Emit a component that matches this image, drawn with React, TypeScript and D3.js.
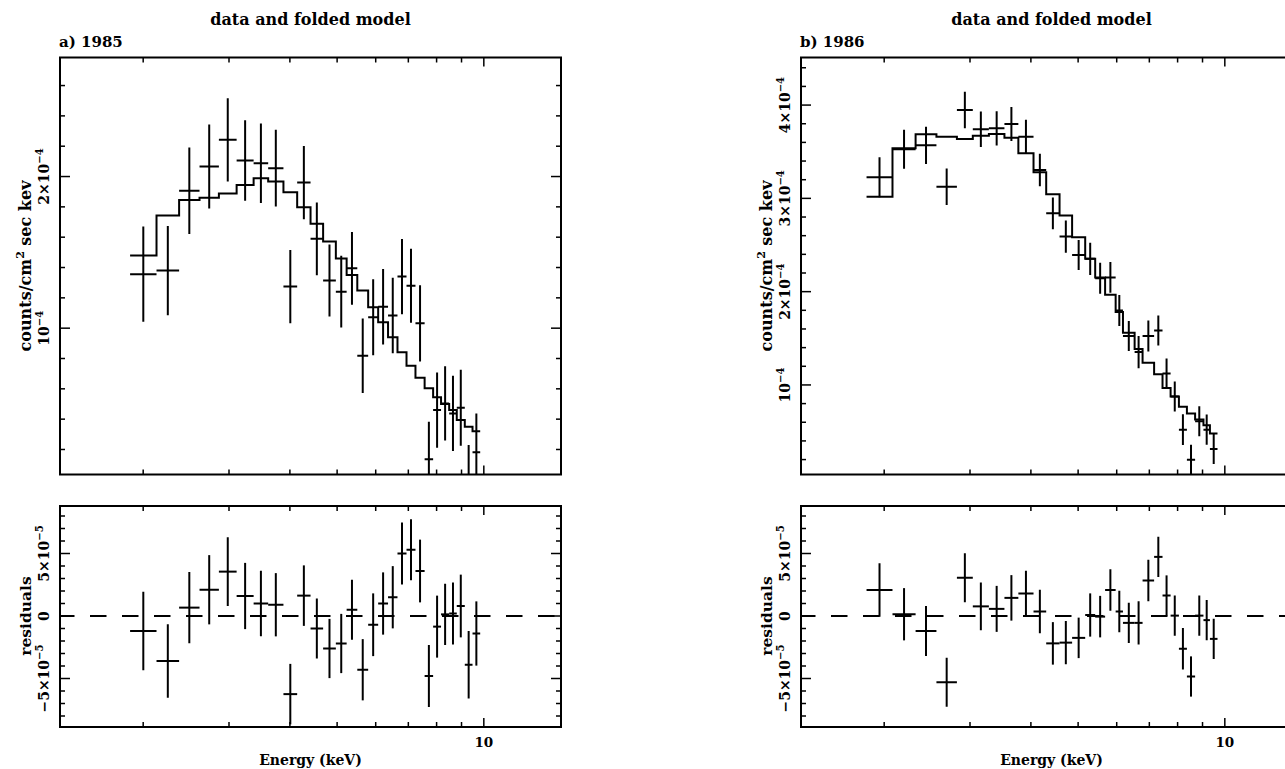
import React from 'react';
import * as d3 from 'd3';

// 1985 spectrum (counts/cm^2 sec keV in units of 1e-4, residuals in 1e-5)
const edges85 = [1.88, 2.13, 2.37, 2.61, 2.86, 3.11, 3.37, 3.61, 3.88, 4.14, 4.41, 4.68, 4.97, 5.23, 5.5, 5.79, 6.07, 6.36, 6.65, 6.94, 7.24, 7.56, 7.87, 8.17, 8.49, 8.8, 9.14, 9.48, 9.83];
const counts85 = [1.356, 1.38, 1.906, 2.066, 2.242, 2.106, 2.088, 2.055, 1.274, 1.96, 1.589, 1.314, 1.241, 1.395, 0.818, 1.072, 1.142, 1.083, 1.34, 1.279, 1.032, 0.135, 0.46, 0.504, 0.438, 0.475, -0.04, 0.181];
const errs85 = [0.314, 0.294, 0.285, 0.277, 0.275, 0.265, 0.262, 0.253, 0.242, 0.242, 0.24, 0.237, 0.237, 0.24, 0.245, 0.251, 0.249, 0.249, 0.248, 0.244, 0.251, 0.248, 0.248, 0.245, 0.248, 0.251, 0.27, 0.257];
const model85 = [1.479, 1.743, 1.846, 1.86, 1.888, 1.945, 1.989, 1.967, 1.897, 1.798, 1.688, 1.571, 1.459, 1.351, 1.248, 1.138, 1.039, 0.94, 0.841, 0.752, 0.673, 0.603, 0.544, 0.5, 0.46, 0.394, 0.35, 0.321];
const resid85 = [-1.2, -3.6, 0.67, 2.1, 3.55, 1.6, 1.0, 0.9, -6.25, 1.63, -1.0, -2.6, -2.2, 0.5, -4.3, -0.7, 1.0, 1.5, 5.0, 5.3, 3.6, -4.8, -0.85, 0.13, 0.2, 0.8, -3.9, -1.4];

// 1986 spectrum
const edges86 = [1.84, 2.08, 2.32, 2.56, 2.82, 3.04, 3.28, 3.53, 3.77, 4.05, 4.3, 4.58, 4.86, 5.17, 5.42, 5.68, 5.97, 6.18, 6.53, 6.78, 7.16, 7.45, 7.74, 8.05, 8.36, 8.69, 9.04, 9.32, 9.66];
const counts86 = [3.226, 3.526, 3.569, 3.125, 3.947, 3.741, 3.751, 3.797, 3.661, 3.304, 2.84, 2.59, 2.393, 2.352, 2.144, 2.153, 1.797, 1.525, 1.352, 1.525, 1.584, 1.123, 0.877, 0.521, 0.198, 0.61, 0.521, 0.313];
const errs86 = [0.214, 0.209, 0.2, 0.196, 0.196, 0.191, 0.184, 0.182, 0.182, 0.174, 0.17, 0.173, 0.162, 0.173, 0.166, 0.166, 0.166, 0.161, 0.173, 0.166, 0.161, 0.161, 0.161, 0.166, 0.161, 0.161, 0.161, 0.161];
const model86 = [3.018, 3.537, 3.687, 3.661, 3.637, 3.67, 3.69, 3.65, 3.483, 3.28, 3.044, 2.815, 2.583, 2.352, 2.153, 1.966, 1.782, 1.56, 1.386, 1.238, 1.115, 0.966, 0.877, 0.767, 0.693, 0.629, 0.569, 0.48];
const resid86 = [2.08, 0.14, -1.2, -5.3, 3.06, 0.77, 0.57, 1.45, 1.8, 0.36, -2.19, -2.13, -1.75, 0.08, -0.05, 2.08, 0.36, -0.55, -0.55, 2.84, 4.73, 1.64, 0.03, -2.62, -4.84, 0.03, -0.33, -1.83];

// axes
const energyDomain = [1.35, 14.4];
const energyMinor = [2, 3, 4, 5, 6, 7, 8, 9];
const energyMajor = [10];
const countMajor85 = [1, 2];
const countLabels85 = ['10', '2×10'];
const countMajor86 = [1, 2, 3, 4];
const countLabels86 = ['10', '2×10', '3×10', '4×10'];
const residMajor = [-5, 0, 5];
const residLabels = ['−5×10', '0', '5×10'];

const FONT = "'DejaVu Serif', serif";
const W = 501;
const TOP = { y0: 57.5, y1: 474.5 };
const RES = { y0: 506, y1: 727 };

function RotLabel({ x, y, base, exp, size }) {
  return (
    <text transform={`translate(${x},${y}) rotate(-90)`} textAnchor='middle' fontSize={size} fontWeight='bold'>
      {base}
      {exp ? <tspan dy={-6} fontSize={size * 0.72}>{exp}</tspan> : null}
    </text>
  );
}

function Panel({ x0, tag, edges, counts, errs, model, resid, countDomain, countMajor, countLabels, id }) {
  const x1 = x0 + W;
  const xs = d3.scaleLog().domain(energyDomain).range([x0, x1]);
  const yTop = d3.scaleLinear().domain(countDomain).range([TOP.y1, TOP.y0]);
  const yRes = d3.scaleLinear().domain([-8.88, 8.8]).range([RES.y1, RES.y0]);

  const stepPts = model.map((m, i) => [edges[i], m]);
  stepPts.push([edges[edges.length - 1], model[model.length - 1]]);
  const stepLine = d3
    .line()
    .x((d) => xs(d[0]))
    .y((d) => yTop(d[1]))
    .curve(d3.curveStepAfter);

  const topMinor = d3.range(0.2, countDomain[1], 0.2).filter((v) => !countMajor.some((m) => Math.abs(m - v) < 1e-6));
  const resMinor = d3.range(-8, 9, 1).filter((v) => !residMajor.includes(v));

  const xTicks = (y0, y1) => (
    <g stroke='#000' strokeWidth={1.5}>
      {energyMinor.map((e) => (
        <g key={'m' + e}>
          <line x1={xs(e)} x2={xs(e)} y1={y1} y2={y1 - 5} />
          <line x1={xs(e)} x2={xs(e)} y1={y0} y2={y0 + 5} />
        </g>
      ))}
      {energyMajor.map((e) => (
        <g key={'M' + e}>
          <line x1={xs(e)} x2={xs(e)} y1={y1} y2={y1 - 9} />
          <line x1={xs(e)} x2={xs(e)} y1={y0} y2={y0 + 9} />
        </g>
      ))}
    </g>
  );

  const yTicks = (scale, minor, major) => (
    <g stroke='#000' strokeWidth={1.5}>
      {minor.map((v) => (
        <g key={'m' + v}>
          <line x1={x0} x2={x0 + 5} y1={scale(v)} y2={scale(v)} />
          <line x1={x1} x2={x1 - 5} y1={scale(v)} y2={scale(v)} />
        </g>
      ))}
      {major.map((v) => (
        <g key={'M' + v}>
          <line x1={x0} x2={x0 + 10} y1={scale(v)} y2={scale(v)} />
          <line x1={x1} x2={x1 - 10} y1={scale(v)} y2={scale(v)} />
        </g>
      ))}
    </g>
  );

  const mid = (i) => xs(Math.sqrt(edges[i] * edges[i + 1]));
  const cx = (x0 + x1) / 2;

  return (
    <g>
      <defs>
        <clipPath id={id + 'top'}>
          <rect x={x0} y={TOP.y0} width={W} height={TOP.y1 - TOP.y0} />
        </clipPath>
        <clipPath id={id + 'res'}>
          <rect x={x0} y={RES.y0} width={W} height={RES.y1 - RES.y0} />
        </clipPath>
      </defs>

      <text x={cx} y={25} textAnchor='middle' fontSize={16} fontWeight='bold'>data and folded model</text>
      <text x={x0 - 1} y={47} fontSize={15} fontWeight='bold'>{tag}</text>

      {/* spectrum */}
      <g clipPath={`url(#${id}top)`} stroke='#000' strokeWidth={2} fill='none'>
        <path d={stepLine(stepPts)} />
        {counts.map((c, i) => (
          <g key={i}>
            <line x1={xs(edges[i])} x2={xs(edges[i + 1])} y1={yTop(c)} y2={yTop(c)} />
            <line x1={mid(i)} x2={mid(i)} y1={yTop(c - errs[i])} y2={yTop(c + errs[i])} />
          </g>
        ))}
      </g>
      {xTicks(TOP.y0, TOP.y1)}
      {yTicks(yTop, topMinor, countMajor)}
      <rect x={x0} y={TOP.y0} width={W} height={TOP.y1 - TOP.y0} fill='none' stroke='#000' strokeWidth={2} />
      {countMajor.map((v, i) => (
        <RotLabel key={v} x={x0 - 11} y={yTop(v)} base={countLabels[i]} exp='−4' size={14} />
      ))}
      <text transform={`translate(${x0 - 29},${(TOP.y0 + TOP.y1) / 2}) rotate(-90)`} textAnchor='middle' fontSize={16} fontWeight='bold'>
        counts/cm<tspan dy={-7} fontSize={11}>2</tspan>
        <tspan dy={7}> sec kev</tspan>
      </text>

      {/* residuals */}
      <line x1={x0} x2={x1} y1={yRes(0)} y2={yRes(0)} stroke='#000' strokeWidth={2} strokeDasharray='16.5 15.5' strokeDashoffset={2} />
      <g clipPath={`url(#${id}res)`} stroke='#000' strokeWidth={2} fill='none'>
        {resid.map((r, i) => (
          <g key={i}>
            <line x1={xs(edges[i])} x2={xs(edges[i + 1])} y1={yRes(r)} y2={yRes(r)} />
            <line x1={mid(i)} x2={mid(i)} y1={yRes(r - errs[i] * 10)} y2={yRes(r + errs[i] * 10)} />
          </g>
        ))}
      </g>
      {xTicks(RES.y0, RES.y1)}
      {yTicks(yRes, resMinor, residMajor)}
      <rect x={x0} y={RES.y0} width={W} height={RES.y1 - RES.y0} fill='none' stroke='#000' strokeWidth={2} />
      {residMajor.map((v, i) => (
        <RotLabel key={v} x={x0 - 11} y={yRes(v)} base={residLabels[i]} exp={v === 0 ? null : '−5'} size={14} />
      ))}
      <RotLabel x={x0 - 29} y={yRes(0)} base='residuals' exp={null} size={15.5} />
      {energyMajor.map((e) => (
        <text key={e} x={xs(e)} y={747} textAnchor='middle' fontSize={13.5} fontWeight='bold'>{e}</text>
      ))}
      <text x={cx} y={765} textAnchor='middle' fontSize={14} fontWeight='bold'>Energy (keV)</text>
    </g>
  );
}

export default function App() {
  return (
    <svg width={1285} height={769} style={{ position: 'absolute', left: 0, top: 0, fontFamily: FONT }}>
      <rect width={1285} height={769} fill='#fff' />
      <Panel
        id='p85'
        x0={60}
        tag='a) 1985'
        edges={edges85}
        counts={counts85}
        errs={errs85}
        model={model85}
        resid={resid85}
        countDomain={[0.035, 2.785]}
        countMajor={countMajor85}
        countLabels={countLabels85}
      />
      <Panel
        id='p86'
        x0={801}
        tag='b) 1986'
        edges={edges86}
        counts={counts86}
        errs={errs86}
        model={model86}
        resid={resid86}
        countDomain={[0.04, 4.51]}
        countMajor={countMajor86}
        countLabels={countLabels86}
      />
    </svg>
  );
}
